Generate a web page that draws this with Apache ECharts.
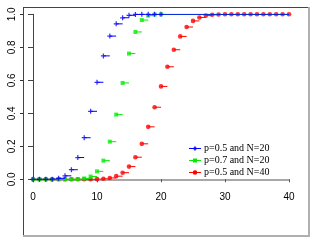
<!DOCTYPE html>
<html>
<head>
<meta charset="utf-8">
<script src="https://cdn.jsdelivr.net/npm/echarts@6/dist/echarts.min.js"></script>
<style>html,body{margin:0;padding:0;background:#fff;}#c{width:325px;height:244px;}</style>
</head>
<body>
<div id="c"></div>
<script>
// Binomial CDF values
const blueName = 'p=0.5 and N=20';
const greenName = 'p=0.7 and N=20';
const redName = 'p=0.5 and N=40';
const blueCdf = [0.000, 0.000, 0.000, 0.001, 0.006, 0.021, 0.058, 0.132, 0.252, 0.412, 0.588, 0.748, 0.868, 0.942, 0.979, 0.994, 0.999, 1.000, 1.000, 1.000, 1.000];
const greenCdf = [0.000, 0.000, 0.000, 0.000, 0.000, 0.000, 0.000, 0.001, 0.005, 0.017, 0.048, 0.113, 0.228, 0.392, 0.584, 0.762, 0.893, 0.965, 0.992, 0.999, 1.000];
const redCdf = [0.000, 0.000, 0.000, 0.000, 0.000, 0.000, 0.000, 0.000, 0.000, 0.000, 0.001, 0.003, 0.008, 0.019, 0.040, 0.077, 0.134, 0.215, 0.318, 0.437, 0.563, 0.682, 0.785, 0.866, 0.923, 0.960, 0.981, 0.992, 0.997, 0.999, 1.000, 1.000, 1.000, 1.000, 1.000, 1.000, 1.000, 1.000, 1.000, 1.000, 1.000];
const xTicks = [0, 10, 20, 30, 40];
const yTickValues = [0.0, 0.2, 0.4, 0.6, 0.8, 1.0];
const yTickLabels = ['0.0', '0.2', '0.4', '0.6', '0.8', '1.0'];

const X_MAX = 40;
const BLUE = '#0000ff', GREEN = '#00ee00', RED = '#ff0000';
const plusPath = 'path://M3,0H5V8H3Z M0,3H8V5H0Z';

function steps(vals, extendLast) {
  const out = [];
  vals.forEach((v, k) => {
    if (k >= X_MAX) return;
    const endK = (extendLast && k === vals.length - 1) ? X_MAX : k + 1;
    out.push([k, v], [endK, v], '-');
  });
  return out;
}
function pts(vals) { return vals.map((v, k) => [k, v]); }

const chart = echarts.init(document.getElementById('c'), null, {renderer: 'canvas'});

chart.setOption({
  animation: false,
  grid: {left: 33, right: 36, top: 14.3, bottom: 64.7},
  xAxis: {
    type: 'value', min: 0, max: 40, interval: 10, offset: 7,
    axisLine: {show: true, lineStyle: {color: '#a8a8a8', width: 2}},
    axisTick: {show: true, length: 3, lineStyle: {color: '#555', width: 1}},
    axisLabel: {color: '#000', fontSize: 10, fontFamily: 'Liberation Sans', margin: 6,
      formatter: v => String(v)},
    splitLine: {show: false}
  },
  yAxis: {
    type: 'value', min: 0, max: 1, interval: 0.2, offset: 10,
    axisLine: {lineStyle: {color: '#444'}},
    axisLabel: {show: false},
    splitLine: {lineStyle: {color: 'rgba(255,255,255,0)'}}
  },
  series: [
    {type: 'line', data: steps(redCdf, false), connectNulls: false, showSymbol: false, symbol: 'none', lineStyle: {color: RED, width: 1}, z: 2},
    {type: 'scatter', data: pts(redCdf), symbol: 'circle', symbolSize: 4.6, itemStyle: {color: RED}, z: 2},
    {type: 'line', data: steps(greenCdf, true), connectNulls: false, showSymbol: false, symbol: 'none', lineStyle: {color: GREEN, width: 1}, z: 3},
    {type: 'scatter', data: pts(greenCdf), symbol: 'rect', symbolSize: 4, itemStyle: {color: GREEN}, z: 3},
    {type: 'line', data: steps(blueCdf, true), connectNulls: false, showSymbol: false, symbol: 'none', lineStyle: {color: BLUE, width: 1}, z: 4},
    {type: 'scatter', data: pts(blueCdf), symbol: plusPath, symbolSize: 5, itemStyle: {color: BLUE}, z: 4}
  ]
});

// Rotated y-axis labels and ticks (positions from the axis scale), frame and legend
const graphics = [];
yTickValues.forEach((v, i) => {
  const py = chart.convertToPixel({yAxisIndex: 0}, v);
  graphics.push({type: 'text', x: 12, y: py, rotation: Math.PI / 2,
    style: {text: yTickLabels[i], fill: '#000', font: '10px "Liberation Sans"', align: 'center', verticalAlign: 'middle'}});
  graphics.push({type: 'line', shape: {x1: 20, y1: Math.round(py) + 0.5, x2: 23, y2: Math.round(py) + 0.5}, style: {stroke: '#333', lineWidth: 1}});
});
graphics.push(
  {type: 'line', shape: {x1: 23, y1: 7.5, x2: 309, y2: 7.5}, style: {stroke: '#444', lineWidth: 1}},
  {type: 'line', shape: {x1: 23.5, y1: 7, x2: 23.5, y2: 236}, style: {stroke: '#444', lineWidth: 1}},
  {type: 'line', shape: {x1: 309, y1: 7, x2: 309, y2: 237}, style: {stroke: '#b0b0b0', lineWidth: 2}},
  {type: 'line', shape: {x1: 23, y1: 236, x2: 310, y2: 236}, style: {stroke: '#b0b0b0', lineWidth: 2}}
);
const legendItems = [
  {name: blueName, color: BLUE, shape: 'plus'},
  {name: greenName, color: GREEN, shape: 'square'},
  {name: redName, color: RED, shape: 'circle'}
];
legendItems.forEach((it, i) => {
  const y = 148.5 + i * 12;
  graphics.push({type: 'line', shape: {x1: 189, y1: y, x2: 201, y2: y}, style: {stroke: it.color, lineWidth: 1}});
  if (it.shape === 'plus') {
    graphics.push({type: 'line', shape: {x1: 193, y1: y, x2: 197, y2: y}, style: {stroke: it.color, lineWidth: 1.5}});
    graphics.push({type: 'line', shape: {x1: 195, y1: y - 2, x2: 195, y2: y + 2}, style: {stroke: it.color, lineWidth: 1.5}});
  } else if (it.shape === 'square') {
    graphics.push({type: 'rect', shape: {x: 193, y: y - 2, width: 4, height: 4}, style: {fill: it.color}});
  } else {
    graphics.push({type: 'circle', shape: {cx: 195, cy: y, r: 2.3}, style: {fill: it.color}});
  }
  graphics.push({type: 'text', x: 204, y: y, style: {text: it.name, fill: '#000', font: '10px "Liberation Serif"', align: 'left', verticalAlign: 'middle'}});
});
chart.setOption({graphic: graphics});
</script>
</body>
</html>
